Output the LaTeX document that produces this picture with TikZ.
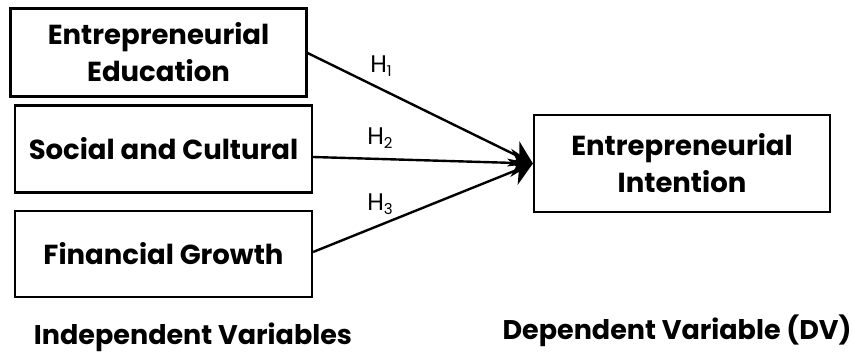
\documentclass[tikz,border=0pt]{standalone}
\usepackage{fontspec}
\setmainfont{Poppins}
\usetikzlibrary{arrows.meta}
\newcommand{\hsub}[1]{H\raisebox{-0.3ex}{\fontsize{15}{15}\selectfont #1}}
\begin{document}
\begin{tikzpicture}[x=1pt,y=-1pt,
  box/.style={draw,line width=2.2pt,align=center,font=\fontsize{27.5}{37}\selectfont\bfseries},
  conn/.style={line width=2.4pt,-{Stealth[length=22pt,width=28pt,inset=7pt]}},
  hlab/.style={font=\fontsize{24}{26}\selectfont},
  captext/.style={font=\fontsize{27}{30}\selectfont\bfseries}]
\useasboundingbox (0,0) rectangle (853,354);
\fill[white] (0,0) rectangle (853,354);
\node[box,minimum width=296pt,minimum height=88pt] (ee) at (158.5,52.5) {Entrepreneurial\\Education};
\node[box,minimum width=297pt,minimum height=87pt] (sc) at (163.5,149) {Social and Cultural};
\node[box,minimum width=297pt,minimum height=86pt] (fg) at (163.5,254) {Financial Growth};
\node[box,minimum width=296pt,minimum height=97pt] (ei) at (682,163.5) {Entrepreneurial\\Intention};
\coordinate (tip) at (ei.west);
\coordinate (s1) at (ee.east|-0,53);
\coordinate (s2) at (sc.east|-0,157);
\coordinate (s3) at (fg.east|-0,252);
\draw[conn] (s1) -- (tip);
\draw[conn] (s2) -- (tip);
\draw[conn] (s3) -- (tip);
\node[hlab] (h1) at (381,66) {\hsub{1}};
\node[hlab] (h2) at (380,138) {\hsub{2}};
\node[hlab] (h3) at (380,204) {\hsub{3}};
\node[captext] (iv) at (193,337) {Independent Variables};
\node[captext] (dv) at (677,331) {Dependent Variable (DV)};
\end{tikzpicture}
\end{document}
